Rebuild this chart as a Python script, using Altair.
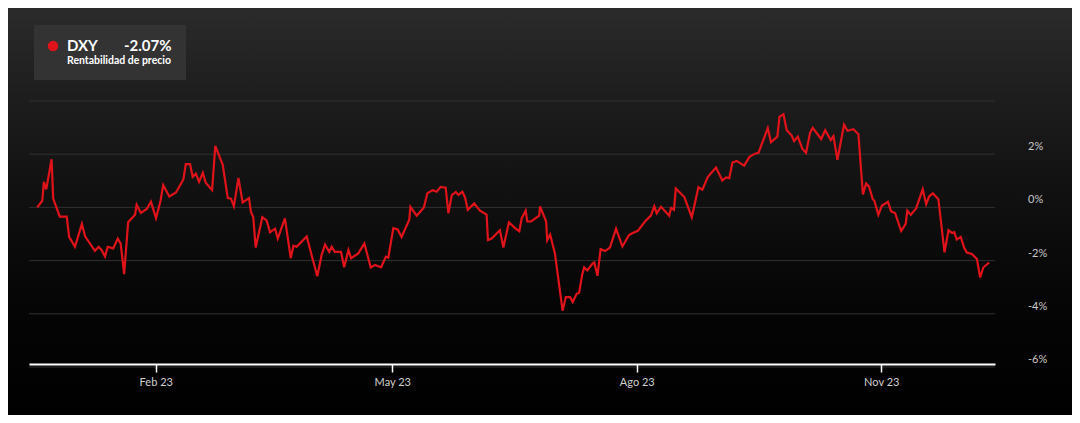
import altair as alt
import pandas as pd

# ---- data (days since 2023-02-01, % price return) ----
base_date = "2023-02-01"
days = [-44.6, -42.7, -42.1, -41.2, -39.2, -38.6, -36.1, -33.5, -32.6, -30.4,
        -27.8, -26.6, -22.9, -21.5, -20.4, -19.1, -18.1, -16.0, -14.3, -13.2,
        -11.9, -10.4, -7.8, -7.2, -5.6, -3.4, -1.8, 0.1, 1.8, 2.8,
        5.1, 7.6, 10.4, 11.3, 12.9, 13.9, 15.1, 16.3, 17.7, 18.8,
        21.2, 22.4, 25.2, 27.1, 28.3, 29.4, 31.1, 32.7, 35.1, 35.8,
        36.7, 37.6, 40.1, 41.7, 43.0, 44.9, 45.9, 48.6, 50.8, 51.8,
        53.0, 56.8, 58.9, 60.8, 62.4, 63.7, 65.3, 66.2, 67.4, 69.7,
        70.9, 72.5, 73.5, 76.2, 78.5, 80.9, 82.5, 84.8, 86.6, 87.5,
        89.4, 91.0, 92.5, 95.4, 95.8, 98.2, 100.9, 102.2, 104.2, 105.7,
        107.2, 109.1, 110.1, 111.4, 112.9, 113.9, 115.4, 116.4, 117.4, 119.8,
        122.0, 124.5, 125.0, 126.4, 129.5, 130.8, 132.9, 135.2, 136.8, 137.7,
        139.2, 139.8, 141.2, 144.3, 144.6, 146.9, 147.3, 148.4, 150.2, 153.1,
        154.3, 155.9, 156.9, 158.4, 159.3, 160.5, 161.2, 162.4, 164.4, 165.0,
        166.2, 167.4, 169.1, 170.9, 173.2, 175.6, 178.1, 179.1, 181.4, 184.1,
        186.3, 187.6, 188.5, 190.1, 193.2, 193.9, 195.0, 195.7, 198.9, 201.7,
        204.2, 205.7, 207.7, 210.8, 213.2, 214.6, 215.8, 217.0, 218.6, 221.4,
        223.4, 225.5, 226.8, 230.3, 231.5, 233.9, 234.7, 236.2, 237.4, 239.3,
        240.2, 241.6, 243.3, 244.7, 246.2, 247.2, 250.4, 251.9, 254.0, 255.0,
        256.5, 259.0, 260.3, 262.5, 264.4, 266.1, 267.3, 268.4, 269.8, 270.4,
        271.9, 273.2, 275.5, 276.7, 278.2, 280.5, 282.2, 282.8, 284.1, 286.1,
        288.6, 289.9, 291.0, 292.4, 294.5, 296.8, 298.3, 299.6, 300.5, 301.4,
        302.9, 304.2, 305.2, 307.1, 309.0, 310.2, 311.4, 313.6]
returns = [0.00, 0.25, 0.96, 0.68, 1.81, 0.33, -0.35, -0.35, -1.11, -1.48,
           -0.62, -1.09, -1.63, -1.48, -1.60, -1.85, -1.48, -1.54, -1.17, -1.36,
           -2.51, -0.56, -0.28, 0.10, -0.21, -0.06, 0.21, -0.41, 0.25, 0.84,
           0.41, 0.56, 1.05, 1.63, 1.63, 1.15, 1.27, 0.96, 1.30, 0.93,
           0.65, 2.31, 1.60, 0.35, 0.33, 0.04, 1.11, 0.19, 0.35, -0.16,
           -0.37, -1.51, -0.37, -0.49, -0.93, -0.80, -1.17, -0.41, -1.91, -1.44,
           -1.48, -1.09, -1.89, -2.59, -1.79, -1.40, -1.67, -1.48, -1.67, -1.67,
           -2.25, -1.60, -1.91, -1.73, -1.36, -2.26, -2.16, -2.25, -1.85, -1.89,
           -0.78, -0.83, -1.11, -0.46, 0.02, -0.31, 0.00, 0.53, 0.65, 0.59,
           0.77, 0.74, -0.22, 0.46, 0.58, 0.47, 0.59, 0.37, -0.09, 0.15,
           -0.12, -0.27, -1.23, -1.17, -0.86, -1.51, -0.56, -0.78, -0.90, -0.41,
           -0.12, -0.53, -0.53, -0.31, 0.04, -0.53, -1.23, -1.02, -1.73, -3.89,
           -3.37, -3.37, -3.56, -3.25, -3.21, -2.51, -2.25, -2.37, -2.10, -2.07,
           -2.57, -1.57, -1.64, -1.51, -0.80, -1.47, -1.04, -0.98, -0.88, -0.53,
           -0.31, 0.04, -0.22, 0.02, -0.31, -0.02, -0.09, 0.71, 0.39, -0.37,
           0.76, 0.67, 1.14, 1.50, 1.01, 1.13, 1.10, 1.69, 1.75, 1.57,
           1.90, 2.02, 2.05, 2.98, 2.45, 2.66, 3.41, 3.50, 2.91, 2.70,
           2.49, 2.66, 2.21, 2.05, 2.80, 2.99, 2.57, 2.90, 2.53, 2.68,
           1.79, 3.11, 2.88, 2.94, 2.75, 0.49, 0.90, 0.78, 0.31, 0.25,
           -0.28, 0.06, 0.21, -0.15, -0.21, -0.89, -0.62, -0.12, -0.28, -0.04,
           0.68, 0.12, 0.41, 0.53, 0.31, -1.69, -0.86, -0.96, -0.93, -1.21,
           -1.11, -1.52, -1.70, -1.75, -1.94, -2.63, -2.26, -2.07]

x_domain_days = [-47.7, 315.8]
month_ticks = ["2023-02-01", "2023-05-01", "2023-08-01", "2023-11-01"]
months_es = ["Ene", "Feb", "Mar", "Abr", "May", "Jun", "Jul", "Ago", "Sep", "Oct", "Nov", "Dic"]
grid_ticks = [-6, -4, -2, 0, 2, 4]
label_ticks = [-6, -4, -2, 0, 2]
label_texts = ["-6%", "-4%", "-2%", "0%", "2%"]
y_domain = [-6, 4]

legend_symbol = ["DXY"]
legend_value = ["-2.07%"]
legend_caption = ["Rentabilidad de precio"]

# ---- build tables ----
base = pd.Timestamp(base_date, tz="UTC")


def to_ms(ts):
    return int(ts.value // 10**6)


dates = [base + pd.Timedelta(days=d) for d in days]
df = pd.DataFrame({
    "date": [d.strftime("%Y-%m-%dT%H:%M:%SZ") for d in dates],
    "value": returns,
})
domain_ms = [to_ms(base + pd.Timedelta(days=d)) for d in x_domain_days]
tick_ms = [to_ms(pd.Timestamp(t, tz="UTC")) for t in month_ticks]
month_js = "[" + ",".join("'%s'" % m for m in months_es) + "]"

RED = "#e0131a"
FONT = "Lato"

one = pd.DataFrame({"k": [0]})

background = alt.Chart(one).mark_rect(
    fill=alt.LinearGradient(
        gradient="linear",
        stops=[
            alt.GradientStop(color="#2b2b2b", offset=0),
            alt.GradientStop(color="#1d1d1d", offset=0.22),
            alt.GradientStop(color="#111111", offset=0.45),
            alt.GradientStop(color="#060606", offset=0.7),
            alt.GradientStop(color="#000000", offset=1),
        ],
        x1=0, x2=0, y1=0, y2=1,
    )
).encode(x=alt.value(-21), x2=alt.value(1043), y=alt.value(-93), y2=alt.value(314))

yscale = alt.Scale(domain=y_domain, nice=False, zero=False)

grid = alt.Chart(pd.DataFrame({"tick": grid_ticks})).mark_rule(
    color="#313131", strokeWidth=1
).encode(y=alt.Y("tick:Q", scale=yscale, axis=None))

ylabels = alt.Chart(pd.DataFrame({"tick": label_ticks, "lab": label_texts})).mark_text(
    align="left", baseline="middle", dy=-7, font=FONT, fontSize=11, color="#c8c8c8"
).encode(
    y=alt.Y("tick:Q", scale=yscale, axis=None),
    x=alt.value(999),
    text="lab:N",
)

line = alt.Chart(df).mark_line(color=RED, strokeWidth=2.2, interpolate="linear").encode(
    x=alt.X(
        "date:T",
        scale=alt.Scale(type="utc", domain=domain_ms),
        axis=alt.Axis(
            values=tick_ms,
            labelExpr=month_js + "[utcmonth(datum.value)] + ' ' + utcFormat(datum.value, '%y')",
            title=None,
            grid=False,
            domainColor="#ffffff",
            domainWidth=2,
            tickColor="#ffffff",
            tickWidth=1.5,
            tickSize=8,
            labelPadding=4,
            labelColor="#d0d0d0",
            labelFont=FONT,
            labelFontSize=11,
            offset=-3,
            zindex=1,
        ),
    ),
    y=alt.Y("value:Q", scale=yscale, axis=None),
)

legend_box = alt.Chart(one).mark_rect(color="#333333").encode(
    x=alt.value(5), x2=alt.value(157), y=alt.value(-76), y2=alt.value(-21)
)
legend_dot = alt.Chart(one).mark_circle(color=RED, opacity=1, size=110).encode(
    x=alt.value(24), y=alt.value(-55)
)
legend_name = alt.Chart(pd.DataFrame({"t": legend_symbol})).mark_text(
    align="left", baseline="middle", font=FONT, fontSize=15, fontWeight="bold", color="#ffffff"
).encode(text="t:N", x=alt.value(38), y=alt.value(-55))
legend_val = alt.Chart(pd.DataFrame({"t": legend_value})).mark_text(
    align="left", baseline="middle", font=FONT, fontSize=15, fontWeight="bold", color="#ffffff"
).encode(text="t:N", x=alt.value(95), y=alt.value(-55))
legend_cap = alt.Chart(pd.DataFrame({"t": legend_caption})).mark_text(
    align="left", baseline="middle", font=FONT, fontSize=10.5, fontWeight="bold", color="#ffffff"
).encode(text="t:N", x=alt.value(38), y=alt.value(-40))

chart = alt.layer(
    background, grid, ylabels, line, legend_box, legend_dot, legend_name, legend_val, legend_cap
).properties(
    width=966, height=266, padding=0
).configure_view(stroke=None)

chart.save("out.html", embed_options={"renderer": "svg", "actions": False})
